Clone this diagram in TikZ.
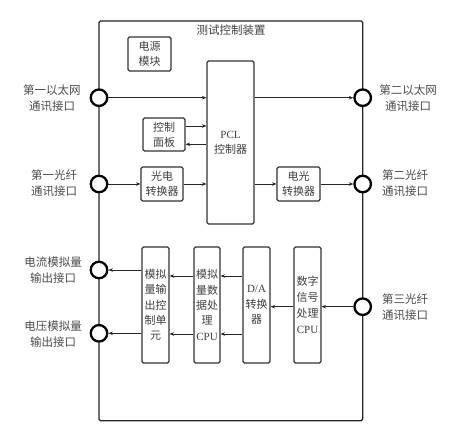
\documentclass[tikz,border=0pt]{standalone}
\usepackage{fontspec}
\setmainfont{Liberation Serif}
\newfontfamily\cjk{Noto Sans CJK SC}
\newcommand\zh[1]{{\cjk #1}}
\usetikzlibrary{arrows.meta,calc}
\begin{document}
\begin{tikzpicture}[x=1pt,y=-1pt,
  box/.style={draw=black!80, line width=1.1pt, rounded corners=1.5pt, inner sep=0pt, align=center,
    text=black!75, font=\fontsize{11}{15.3}\selectfont},
  port/.style={circle, draw=black, line width=2.3pt, fill=white, minimum size=16.5pt, inner sep=0pt},
  lbl/.style={align=center, font=\cjk\fontsize{11.5}{16}\selectfont, text=black!70},
  arr/.style={-{Stealth[length=4.5pt,width=3.5pt]}, line width=0.8pt, draw=black!85},
  frame/.style={draw=black!85, line width=1.3pt, rounded corners=1.5pt}]
\useasboundingbox (0,0) rectangle (450,429);
\fill[white] (0,0) rectangle (450,429);
% outer frame
\draw[frame] (99,21) rectangle (362.7,420.7);
\node[lbl, text=black!75] (title) at (231,30) {测试控制装置};
% boxes
\node[box, minimum width=43pt, minimum height=34pt] (pwr) at (149.5,54) {\zh{电源}\\\zh{模块}};
\node[box, minimum width=47pt, minimum height=163pt] (pcl) at (230.5,142.5) {PCL\\\zh{控制器}};
\node[box, minimum width=42pt, minimum height=33pt] (panel) at (164,134.5) {\zh{控制}\\\zh{面板}};
\node[box, minimum width=42pt, minimum height=34pt] (oe) at (162,184) {\zh{光电}\\\zh{转换器}};
\node[box, minimum width=43pt, minimum height=34pt] (eo) at (298.5,184) {\zh{电光}\\\zh{转换器}};
\node[box, minimum width=27pt, minimum height=116pt] (unit) at (155.5,305) {\zh{模拟}\\\zh{量输}\\\zh{出控}\\\zh{制单}\\\zh{元}};
\node[box, minimum width=26pt, minimum height=116pt] (acpu) at (207,305) {\zh{模拟}\\\zh{量数}\\\zh{据处}\\\zh{理}\\CPU};
\node[box, minimum width=27pt, minimum height=116pt] (da) at (256.5,305) {D/A\\\zh{转换}\\\zh{器}};
\node[box, minimum width=27pt, minimum height=116pt, font=\fontsize{11}{16}\selectfont] (dsp) at (307.5,305) {\zh{数字}\\\zh{信号}\\\zh{处理}\\CPU};
% ports
\node[port] (L1) at (99,97.7) {};
\node[port] (L2) at (99,184) {};
\node[port] (L3) at (99,270) {};
\node[port] (L4) at (99,333.3) {};
\node[port] (R1) at (362.7,97.7) {};
\node[port] (R2) at (362.7,184) {};
\node[port] (R3) at (362.7,306.7) {};
% labels
\node[lbl] (tL1) at (52,98) {第一以太网\\通讯接口};
\node[lbl] (tL2) at (54,183.5) {第一光纤\\通讯接口};
\node[lbl] (tL3) at (53,270.5) {电流模拟量\\输出接口};
\node[lbl] (tL4) at (53,334) {电压模拟量\\输出接口};
\node[lbl] (tR1) at (408,98.5) {第二以太网\\通讯接口};
\node[lbl] (tR2) at (405,183) {第二光纤\\通讯接口};
\node[lbl] (tR3) at (405,307) {第三光纤\\通讯接口};
% connectors
\draw[arr] (L1.east) -- (L1.east -| pcl.west);
\draw[arr] (R1.west -| pcl.east) -- (R1.west);
\coordinate (pa) at ($(panel.east)+(0,-8.5)$);
\coordinate (pb) at ($(panel.east)+(0,9.8)$);
\draw[arr] (pa) -- (pa -| pcl.west);
\draw[arr] (pb -| pcl.west) -- (pb);
\draw[arr] (L2.east) -- (oe.west);
\draw[arr] (oe.east) -- (oe.east -| pcl.west);
\draw[arr] (eo.west -| pcl.east) -- (eo.west);
\draw[arr] (eo.east) -- (R2.west);
\draw[arr] (R3.west) -- (R3.west -| dsp.east);
\draw[arr] (R3.west -| dsp.west) -- (R3.west -| da.east);
\coordinate (ya) at (0,276);
\coordinate (yb) at (0,334);
\draw[arr] (ya -| da.west) -- (ya -| acpu.east);
\draw[arr] (yb -| da.west) -- (yb -| acpu.east);
\draw[arr] (ya -| acpu.west) -- (ya -| unit.east);
\draw[arr] (yb -| acpu.west) -- (yb -| unit.east);
\draw[arr] (L3.east -| unit.west) -- (L3.east);
\draw[arr] (L4.east -| unit.west) -- (L4.east);
\end{tikzpicture}
\end{document}
